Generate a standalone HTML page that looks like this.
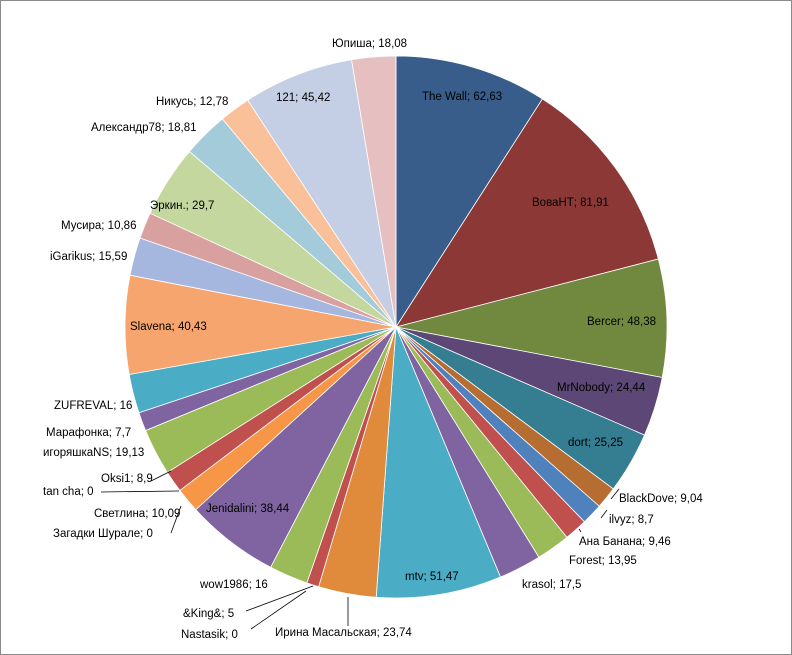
<!DOCTYPE html>
<html><head><meta charset="utf-8"><style>
html,body{margin:0;padding:0;background:#fff}
#c{position:relative;width:790px;height:653px;border:1px solid #8a8a8a;overflow:hidden}
.l{position:absolute;font:11.5px "Liberation Sans","DejaVu Sans",sans-serif;color:#000;white-space:nowrap;line-height:13px}
svg{position:absolute;left:0;top:0}
</style></head><body><div id="c">
<svg id="s" width="790" height="653"></svg>
</div>
<script>
var d=[
[62.63,'#385D8A'],[81.91,'#8C3836'],[48.38,'#71893F'],[24.44,'#5C4776'],[25.25,'#357D91'],[9.04,'#B66D31'],
[8.7,'#4F81BD'],[9.46,'#C0504D'],[13.95,'#9BBB59'],[17.5,'#8064A2'],[51.47,'#4BACC6'],[23.74,'#E08A3C'],
[0,'#4F81BD'],[5,'#C0504D'],[16,'#9BBB59'],[38.44,'#8064A2'],[0,'#4BACC6'],[10.09,'#F79646'],
[0,'#4F81BD'],[8.9,'#C0504D'],[19.13,'#9BBB59'],[7.7,'#8064A2'],[16,'#4BACC6'],[40.43,'#F6A56F'],
[15.59,'#A5B7DE'],[10.86,'#D9A0A0'],[29.7,'#C4D79E'],[18.81,'#A3CBDA'],[12.78,'#FAC09A'],[45.42,'#C4CEE4'],[18.08,'#E6C0C0']];
var tot=0;d.forEach(function(v){tot+=v[0]});
var cx=395,cy=326,r=271,a=0,h='';
d.forEach(function(v){if(!v[0])return;var b=a+v[0]/tot*2*Math.PI;
var x1=cx+r*Math.sin(a),y1=cy-r*Math.cos(a),x2=cx+r*Math.sin(b),y2=cy-r*Math.cos(b);
h+='<path d="M'+cx+','+cy+'L'+x1.toFixed(2)+','+y1.toFixed(2)+'A'+r+','+r+' 0 '+((b-a)>Math.PI?1:0)+' 1 '+x2.toFixed(2)+','+y2.toFixed(2)+'Z" fill="'+v[1]+'" stroke="#fff" stroke-width="0.8"/>';a=b;});
var L=[[610,498,618,488],[600,517,606,509],[578,528,580,531],[305,590,250,628],[312,585,245,610],[347,596,347,625],[178,490,100,491],[180,505,170,532],[170,470,150,480]];
L.forEach(function(p){h+='<line x1="'+p[0]+'" y1="'+p[1]+'" x2="'+p[2]+'" y2="'+p[3]+'" stroke="#000" stroke-width="0.8"/>';});
document.getElementById('s').innerHTML=h;
var T=[['Юпиша; 18,08',331,37],['The Wall; 62,63',421,90],['ВоваНТ; 81,91',531,196],['Bercer; 48,38',586,315],['MrNobody; 24,44',556,381],['dort; 25,25',567,436],
['BlackDove; 9,04',618,492],['ilvyz; 8,7',608,513],['Ана Банана; 9,46',578,535],['Forest; 13,95',568,554],['krasol; 17,5',521,578],['mtv; 51,47',404,570],
['Ирина Масальская; 23,74',274,626],['Nastasik; 0',180,628],['&King&; 5',182,607],['wow1986; 16',199,578],['Jenidalini; 38,44',205,502],['Загадки Шурале; 0',52,527],
['Светлина; 10,09',93,507],['tan cha; 0',42,485],['Oksi1; 8,9',100,472],['игоряшкаNS; 19,13',42,446],['Марафонка; 7,7',45,426],['ZUFREVAL;  16',53,399],
['Slavena; 40,43',129,320],['iGarikus; 15,59',49,250],['Мусира; 10,86',60,219],['Эркин.; 29,7',149,199],['Александр78; 18,81',90,121],['Никусь; 12,78',155,95],['121; 45,42',275,91]];
var c=document.getElementById('c');
T.forEach(function(t){var e=document.createElement('div');e.className='l';e.textContent=t[0];e.style.left=t[1]+'px';e.style.top=t[2]+'px';c.appendChild(e);});
</script></body></html>
